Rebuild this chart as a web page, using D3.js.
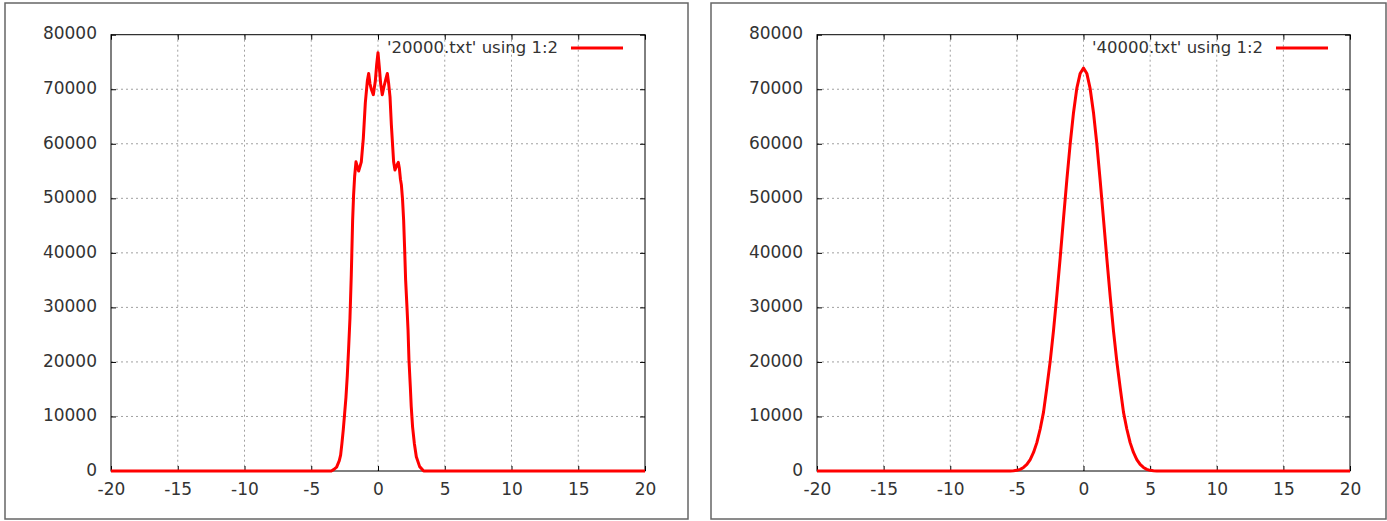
<!DOCTYPE html>
<html>
<head>
<meta charset="utf-8">
<script src="https://cdn.jsdelivr.net/npm/d3@7"></script>
<style>
  html, body { margin: 0; padding: 0; background: #fff; }
  svg { display: block; font-family: "DejaVu Sans", sans-serif; }
</style>
</head>
<body>
<svg id="chart" width="1387" height="521"></svg>
<script>
// Axis ticks shared by both panels
const xTicks = [-20, -15, -10, -5, 0, 5, 10, 15, 20];
const yTicks = [0, 10000, 20000, 30000, 40000, 50000, 60000, 70000, 80000];

// Histogram after 20000 steps
const x20000 = [-20, -3.5, -3.3, -3.1, -2.9, -2.8, -2.7, -2.6, -2.5, -2.4, -2.3, -2.2, -2.1, -2.0, -1.9, -1.83, -1.75,
  -1.65, -1.55, -1.45, -1.35, -1.25, -1.1, -0.95, -0.8, -0.7, -0.6, -0.5, -0.35, -0.2, -0.1, 0,
  0.1, 0.2, 0.32, 0.45, 0.6, 0.7, 0.8, 0.9, 1.0, 1.1, 1.17, 1.27, 1.4, 1.52, 1.6, 1.68, 1.75,
  1.84, 1.92, 1.99, 2.07, 2.17, 2.25, 2.32, 2.42, 2.49, 2.59, 2.72, 2.87, 3.12, 3.42, 20];
const y20000 = [0, 0, 300, 700, 1900, 2900, 5100, 7600, 10500, 13500, 17500, 22500, 28000, 36000, 46000, 50500, 54000,
  56700, 55800, 55000, 55800, 56700, 61000, 67500, 71500, 72900, 71000, 70000, 69000, 71500, 74500, 76700,
  74000, 71000, 69000, 70500, 72000, 72900, 71000, 68600, 63500, 59500, 56700, 55200, 56000, 56600, 55500, 53500, 52500,
  49700, 46000, 41100, 35000, 30100, 25850, 20350, 15500, 11800, 8100, 5100, 2600, 800, 0, 0];

// Histogram after 40000 steps
const x40000 = [-20, -5.5, -5.25, -5.0, -4.75, -4.5, -4.25, -4.0, -3.75, -3.5, -3.25, -3.0, -2.75, -2.5, -2.25, -2.0,
  -1.75, -1.5, -1.25, -1.0, -0.75, -0.5, -0.25, 0, 0.25, 0.5, 0.75, 1.0, 1.25, 1.5, 1.75, 2.0,
  2.25, 2.5, 2.75, 3.0, 3.25, 3.5, 3.75, 4.0, 4.25, 4.5, 4.75, 5.0, 5.25, 5.5, 20];
const y40000 = [0, 0, 40, 120, 300, 650, 1200, 2100, 3400, 5200, 7700, 10800, 15300, 20100, 25800, 32200,
  39100, 46300, 53400, 60000, 65700, 70200, 72900, 73900, 72900, 70100, 65700, 60000, 53300, 46200, 39000, 32100,
  25700, 20100, 15300, 10800, 7700, 5200, 3400, 2100, 1200, 650, 300, 120, 40, 0, 0];

const legend20000 = "'20000.txt' using 1:2";
const legend40000 = "'40000.txt' using 1:2";

const svg = d3.select("#chart");
const plainNumber = d => String(d);

function drawPanel(cfg) {
  const g = svg.append("g");

  // outer panel frame
  g.append("rect")
    .attr("x", cfg.box[0]).attr("y", cfg.box[1])
    .attr("width", cfg.box[2] - cfg.box[0]).attr("height", cfg.box[3] - cfg.box[1])
    .attr("fill", "none").attr("stroke", "#666").attr("stroke-width", 1.5);

  const x = d3.scaleLinear().domain([-20, 20]).range([cfg.left, cfg.right]);
  const y = d3.scaleLinear().domain([0, 80000]).range([cfg.bottom, cfg.top]);

  // dotted grid
  g.append("g").selectAll("line")
    .data(xTicks.filter(d => d > -20 && d < 20))
    .join("line")
    .attr("x1", d => x(d)).attr("x2", d => x(d))
    .attr("y1", cfg.top).attr("y2", cfg.bottom)
    .attr("stroke", "#a0a0a0").attr("stroke-width", 1).attr("stroke-dasharray", "2,3");
  g.append("g").selectAll("line")
    .data(yTicks.filter(d => d > 0 && d < 80000))
    .join("line")
    .attr("x1", cfg.left).attr("x2", cfg.right)
    .attr("y1", d => y(d)).attr("y2", d => y(d))
    .attr("stroke", "#a0a0a0").attr("stroke-width", 1).attr("stroke-dasharray", "2,3");

  // plot frame
  g.append("rect")
    .attr("x", cfg.left).attr("y", cfg.top)
    .attr("width", cfg.right - cfg.left).attr("height", cfg.bottom - cfg.top)
    .attr("fill", "none").attr("stroke", "#000").attr("stroke-width", 1);

  const styleAxis = sel => {
    sel.select(".domain").remove();
    sel.selectAll(".tick line").attr("stroke", "#000");
    sel.selectAll(".tick text").attr("fill", "#333").style("font-size", "17px")
      .style("font-family", "'DejaVu Sans', sans-serif");
  };

  g.append("g").attr("transform", `translate(0,${cfg.bottom})`)
    .call(d3.axisBottom(x).tickValues(xTicks).tickSize(-5).tickPadding(12).tickFormat(plainNumber))
    .call(styleAxis);
  g.append("g").attr("transform", `translate(0,${cfg.top})`)
    .call(d3.axisTop(x).tickValues(xTicks).tickSize(-5).tickFormat(""))
    .call(styleAxis);
  g.append("g").attr("transform", `translate(${cfg.left},0)`)
    .call(d3.axisLeft(y).tickValues(yTicks).tickSize(-5).tickPadding(14).tickFormat(plainNumber))
    .call(styleAxis)
    .selectAll(".tick text").attr("dy", "0.25em");
  g.append("g").attr("transform", `translate(${cfg.right},0)`)
    .call(d3.axisRight(y).tickValues(yTicks).tickSize(-5).tickFormat(""))
    .call(styleAxis);

  // data curve
  const pts = cfg.xs.map((v, i) => [v, cfg.ys[i]]);
  g.append("path")
    .datum(pts)
    .attr("fill", "none").attr("stroke", "#ff0000").attr("stroke-width", 3)
    .attr("stroke-linejoin", "round")
    .attr("d", d3.line().x(d => x(d[0])).y(d => y(d[1])));

  // legend
  g.append("text")
    .attr("x", cfg.right - 87).attr("y", 53)
    .attr("text-anchor", "end")
    .attr("fill", "#333").style("font-size", "16.5px")
    .text(cfg.label);
  g.append("line")
    .attr("x1", cfg.right - 74).attr("x2", cfg.right - 22)
    .attr("y1", 48).attr("y2", 48)
    .attr("stroke", "#ff0000").attr("stroke-width", 3);
}

drawPanel({ box: [5, 3, 688, 519], left: 111, right: 645, top: 34.7, bottom: 471,
  xs: x20000, ys: y20000, label: legend20000 });
drawPanel({ box: [711, 3, 1386, 519], left: 817, right: 1350, top: 34.7, bottom: 471,
  xs: x40000, ys: y40000, label: legend40000 });
</script>
</body>
</html>
